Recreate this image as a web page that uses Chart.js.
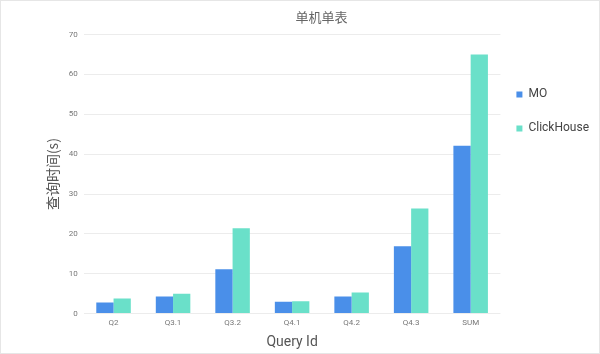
<!DOCTYPE html>
<html>
<head>
<meta charset="utf-8">
<script src="https://cdn.jsdelivr.net/npm/chart.js@4"></script>
<style>
  html, body { margin: 0; padding: 0; background: #fff; }
  #wrap { width: 600px; height: 354px; position: relative; box-sizing: border-box; border: 1px solid #e6e6e6; }
</style>
</head>
<body>
<div id="wrap"><canvas id="myChart" width="598" height="352"></canvas></div>
<script>
"use strict";

const queries = ["Q2", "Q3.1", "Q3.2", "Q4.1", "Q4.2", "Q4.3", "SUM"]
const moTimes = [2.8, 4.3, 11.1, 3.0, 4.3, 16.9, 42.1]
const clickhouseTimes = [3.8, 5.0, 21.4, 3.1, 5.3, 26.4, 65.0]
const yTicks = [0, 10, 20, 30, 40, 50, 60, 70]
const colors = ["#4a8fe9", "#6ae0c9"]

// give the plot a few more pixels on the right, legend stays where it is
const legendShift = {
    id: 'legendShift',
    beforeLayout(chart) {
        const lg = chart.legend;
        if (lg && !lg._patched) {
            const fit = lg.fit.bind(lg);
            lg.fit = function () { fit(); this.width -= 6; };
            lg._patched = true;
        }
    },
    afterLayout(chart) {
        chart.legend.left -= 6;
        chart.legend.right -= 6;
    }
}

new Chart("myChart", {
    type: 'bar',
    data: {
        labels: queries,
        datasets: [{
            label: "MO",
            backgroundColor: colors[0],
            data: moTimes
        }, {
            label: "ClickHouse",
            backgroundColor: colors[1],
            data: clickhouseTimes
        }]
    },
    plugins: [legendShift],
    options: {
        responsive: false,
        animation: false,
        categoryPercentage: 0.58,
        barPercentage: 1,
        layout: { padding: { left: 43, right: 0, top: 0, bottom: 0 } },
        plugins: {
            title: {
                display: true,
                text: '单机单表',
                color: '#666',
                font: { family: '"Noto Sans CJK SC", sans-serif', size: 13, weight: 'normal' },
                padding: { top: 8, bottom: 10 }
            },
            legend: {
                position: 'right',
                align: 'start',
                title: { display: true, text: ' ', padding: { top: 0, bottom: 51 } },
                labels: {
                    boxWidth: 6,
                    boxHeight: 6,
                    padding: 22,
                    color: '#444',
                    font: { family: 'Roboto, "Noto Sans", sans-serif', size: 12 }
                }
            },
            tooltip: { enabled: false }
        },
        scales: {
            x: {
                grid: { display: false, drawTicks: false },
                border: { display: false },
                ticks: { color: '#777', font: { size: 8, family: 'Roboto, sans-serif' }, padding: 5 },
                title: {
                    display: true,
                    text: 'Query Id',
                    color: '#555',
                    font: { size: 14, family: 'Roboto, "Noto Sans", sans-serif' },
                    padding: { top: 1, bottom: 2 }
                }
            },
            y: {
                min: 0,
                max: 70,
                afterBuildTicks: axis => { axis.ticks = yTicks.map(v => ({ value: v })) },
                grid: { color: '#ececec', drawTicks: false },
                border: { display: false },
                ticks: { color: '#777', font: { size: 8, family: 'Roboto, sans-serif' }, padding: 6 },
                title: {
                    display: true,
                    text: '查询时间(s)',
                    color: '#555',
                    font: { size: 14, family: '"Noto Sans CJK SC", sans-serif' },
                    padding: { top: 0, bottom: 2 }
                }
            }
        }
    }
})
</script>
</body>
</html>
